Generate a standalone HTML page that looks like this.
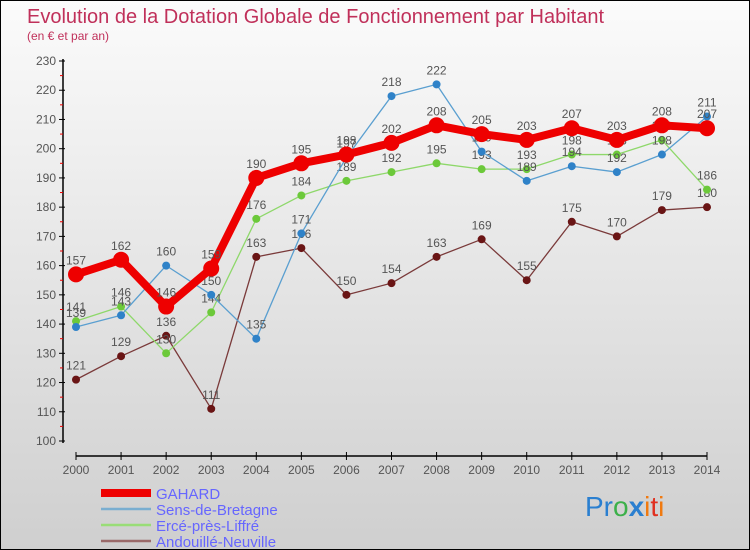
<!DOCTYPE html>
<html><head><meta charset="utf-8"><style>
body{margin:0}
#c{width:750px;height:550px;position:relative;overflow:hidden;box-sizing:border-box;border:1px solid #000;background:linear-gradient(#fbfbfb,#cfcfcf);font-family:"Liberation Sans",sans-serif}
</style></head><body>
<div id="c">
<svg id="s" width="750" height="550" style="position:absolute;left:0;top:0">
<text x="26" y="22" font-size="20" fill="#c0305a">Evolution de la Dotation Globale de Fonctionnement par Habitant</text>
<text x="26" y="39" font-size="12" fill="#c0305a">(en € et par an)</text>
<g id="axes"></g><g id="series"></g><g id="legend"></g>
<text x="584" y="515" font-size="28"><tspan fill="#2a7fd0">Pr</tspan><tspan fill="#3cb04a">o</tspan><tspan fill="#2a7fd0" font-weight="bold">x</tspan><tspan fill="#f07a10">i</tspan><tspan fill="#e03020">t</tspan><tspan fill="#f07a10">i</tspan></text>
</svg>
</div>
<script>
const years=["2000","2001","2002","2003","2004","2005","2006","2007","2008","2009","2010","2011","2012","2013","2014"];
const yTicks=[100,110,120,130,140,150,160,170,180,190,200,210,220,230];
const gahard=[157,162,146,159,190,195,198,202,208,205,203,207,203,208,207];
const sens=[139,143,160,150,135,171,197,218,222,199,189,194,192,198,211];
const erce=[141,146,130,144,176,184,189,192,195,193,193,198,198,203,186];
const andouille=[121,129,136,111,163,166,150,154,163,169,155,175,170,179,180];
const NS="http://www.w3.org/2000/svg";
const x=i=>75+i*(706-75)/14;
const y=v=>440-(v-100)*(380/130);
function mk(tag,attrs,parent){const e=document.createElementNS(NS,tag);for(const k in attrs)e.setAttribute(k,attrs[k]);parent.appendChild(e);return e;}
const ax=document.getElementById('axes');
let e=mk('line',{x1:62,y1:58,x2:62,y2:442,stroke:'#000','stroke-width':1.5},ax);


e=mk('line',{x1:75,y1:455,x2:706,y2:455,stroke:'#000','stroke-width':1.5},ax);


yTicks.forEach(v=>{
  mk('line',{x1:58,y1:y(v),x2:64,y2:y(v),stroke:'#000'},ax);
  if(v<230)mk('line',{x1:59,y1:y(v+5),x2:62,y2:y(v+5),stroke:'#e00'},ax);
  const t=mk('text',{x:55,y:y(v)+4,'font-size':12,fill:'#555','text-anchor':'end'},ax);t.textContent=v;
  
  
});
years.forEach((yr,i)=>{
  mk('line',{x1:x(i),y1:451,x2:x(i),y2:459,stroke:'#000'},ax);
  const t=mk('text',{x:x(i),y:473,'font-size':12,fill:'#555','text-anchor':'middle'},ax);t.textContent=yr;
  
  
});
const sg=document.getElementById('series');
function series(data,color,w,r,name,dot){
  const g=mk('g',{},sg);
  
  
  mk('polyline',{points:data.map((v,i)=>x(i)+','+y(v)).join(' '),fill:'none',stroke:color,'stroke-width':w,'stroke-linejoin':'round'},g);
  data.forEach((v,i)=>{
    const c=mk('circle',{cx:x(i),cy:y(v),r:r,fill:dot},g);
    
    
    const t=mk('text',{x:x(i),y:y(v)-10,'font-size':12,fill:'#555','text-anchor':'middle'},g);t.textContent=v;
    
    
  });
}
series(andouille,'#7a3a3a',1.3,4,'andouille','#6a1515');
series(erce,'#8ed86a',1.3,4,'erce','#6cc93a');
series(sens,'#5a9fd0',1.3,4,'sens','#2f82c8');
series(gahard,'#ee0000',8,8,'gahard','#ee0000');
const lg=document.getElementById('legend');
[["GAHARD",'#ee0000',8],["Sens-de-Bretagne",'#7aaed0',2.5],["Ercé-près-Liffré",'#99dd77',2.5],["Andouillé-Neuville",'#9a6a6a',2.5]].forEach((d,i)=>{
  const yy=492+i*16;
  const l=mk('line',{x1:100,y1:yy,x2:150,y2:yy,stroke:d[1],'stroke-width':d[2]},lg);
  
  
  const t=mk('text',{x:155,y:yy+6,'font-size':15,fill:'#6666ff'},lg);t.textContent=d[0];
  
  
});
</script>
</body></html>
